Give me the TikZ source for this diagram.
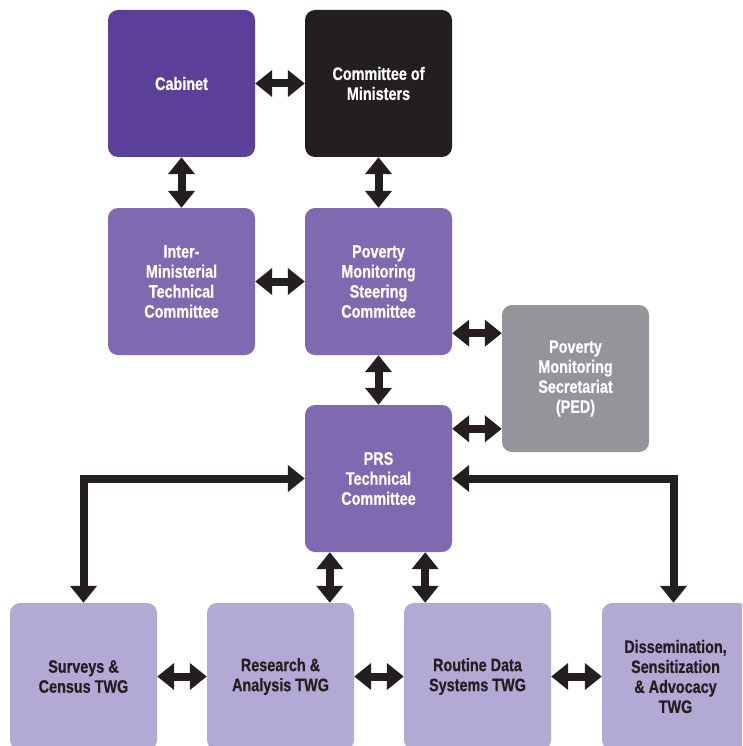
\documentclass[tikz,border=0pt]{standalone}
\usepackage{fontspec}
\setmainfont[FakeStretch=0.8,BoldFeatures={FakeBold=0.6}]{Liberation Sans}
\usetikzlibrary{arrows.meta}
\definecolor{cabinetpurple}{HTML}{5B3F99}
\definecolor{inkblack}{HTML}{231F20}
\definecolor{midpurple}{HTML}{7F69B0}
\definecolor{secgray}{HTML}{939598}
\definecolor{lightpurple}{HTML}{B3A9D5}

\begin{document}
\begin{tikzpicture}[x=1pt,y=-1pt,
  box/.style={rounded corners=10pt, minimum width=147pt, minimum height=147pt,
    inner sep=0pt, align=center, text=white,
    font=\fontsize{18}{20}\selectfont\bfseries},
  twg/.style={box, fill=lightpurple, text=inkblack},
  link/.style={draw=inkblack, line width=8pt,
    {Triangle[width=26pt,length=17pt]}-{Triangle[width=26pt,length=17pt]}},
]
\useasboundingbox (0,0) rectangle (742,746);
\clip (0,0) rectangle (742,746);

% top two levels
\node[box, fill=cabinetpurple] (cab) at (181.5,83.5) {Cabinet};
\node[box, fill=inkblack] (com) at (378.5,83.5) {Committee of\\Ministers};
\node[box, fill=midpurple] (imtc) at (181.5,281.5) {Inter-\\Ministerial\\Technical\\Committee};
\node[box, fill=midpurple] (pmsc) at (378.5,281.5) {Poverty\\Monitoring\\Steering\\Committee};
\node[box, fill=secgray] (sec) at (575.5,378.5) {Poverty\\Monitoring\\Secretariat\\(PED)};
\node[box, fill=midpurple] (prs) at (378.5,478.5) {PRS\\Technical\\Committee};

% working groups (run off the bottom and right edges)
\node[twg] (surveys) at (83.5,676.5) {Surveys \&\\Census TWG};
\node[twg] (research) at (280.5,676.5) {Research \&\\Analysis TWG};
\node[twg] (routine) at (477.5,676.5) {Routine Data\\Systems TWG};
\node[twg] (dissem) at (675.5,676.5) {Dissemination,\\Sensitization\\\& Advocacy\\TWG};

% connectors
\draw[link] (cab.east) -- (com.west);
\draw[link] (cab.south) -- (imtc.north);
\draw[link] (com.south) -- (pmsc.north);
\draw[link] (imtc.east) -- (pmsc.west);
\draw[link] ([yshift=22pt]pmsc.south east) -- ([yshift=22pt]pmsc.south east -| sec.west);
\draw[link] ([yshift=-24pt]prs.north east) -- ([yshift=-24pt]prs.north east -| sec.west);
\draw[link] (pmsc.south) -- (prs.north);
\draw[link] (prs.west) -| (surveys.north);
\draw[link] (prs.east) -| ([xshift=-2pt]dissem.north);
\draw[link] ([xshift=25pt]prs.south west) -- ([xshift=25pt]prs.south west |- research.north);
\draw[link] ([xshift=-27pt]prs.south east) -- ([xshift=-27pt]prs.south east |- routine.north);
\draw[link] (surveys.east) -- (research.west);
\draw[link] (research.east) -- (routine.west);
\draw[link] (routine.east) -- (dissem.west);
\end{tikzpicture}
\end{document}
